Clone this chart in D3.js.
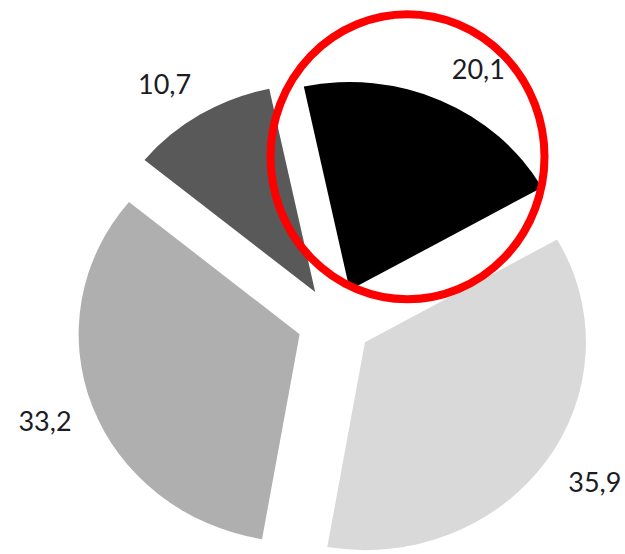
<!DOCTYPE html>
<html>
<head>
<meta charset="utf-8">
<script src="https://cdn.jsdelivr.net/npm/d3@7"></script>
<style>
  html, body { margin: 0; padding: 0; background: #ffffff; }
  svg { display: block; }
</style>
</head>
<body>
<svg id="chart" width="625" height="554"></svg>
<script>
// Slice data, clockwise from the first slice
const categories = ["Segment 1", "Segment 2", "Segment 3", "Segment 4"];
const values = [20.1, 35.9, 33.2, 10.7];
const sliceColors = ["#000000", "#d9d9d9", "#afafaf", "#595959"];
const highlighted = "Segment 1";

const width = 625, height = 554;
const cx = 334.5, cy = 322;          // pie centre
const radius = 208;                   // outer radius
const xStretch = 1.0625;              // horizontal stretch of the pie
const explode = 35;                   // distance each slice is pulled out
const startDeg = -12;

const rad = d => d * Math.PI / 180;
const locale = d3.formatLocale({ decimal: ",", thousands: ".", grouping: [3], currency: ["", ""] });
const fmt = locale.format(".1f");

const data = categories.map((c, i) => ({ name: c, value: values[i], color: sliceColors[i] }));

const pie = d3.pie()
  .sort(null)
  .value(d => d.value)
  .startAngle(rad(startDeg))
  .endAngle(rad(startDeg + 360));

const arc = d3.arc().innerRadius(0).outerRadius(radius);
const arcs = pie(data);

const svg = d3.select("#chart");
svg.append("rect").attr("width", width).attr("height", height).attr("fill", "#ffffff");

// Pie drawn in a stretched group
const g = svg.append("g")
  .attr("transform", `translate(${cx},${cy}) scale(${xStretch},1)`);

const mid = d => (d.startAngle + d.endAngle) / 2;

g.selectAll("path.slice")
  .data(arcs)
  .join("path")
  .attr("class", "slice")
  .attr("d", arc)
  .attr("fill", d => d.data.color)
  .attr("transform", d => `translate(${explode * Math.sin(mid(d))},${-explode * Math.cos(mid(d))})`);

// Screen position of a point at distance r along a slice bisector (after explosion)
function along(d, r) {
  const a = mid(d);
  return [
    cx + xStretch * (explode + r) * Math.sin(a),
    cy - (explode + r) * Math.cos(a)
  ];
}

// Value labels just outside each slice
const labelR = radius + 26;
svg.selectAll("text.value")
  .data(arcs)
  .join("text")
  .attr("class", "value")
  .each(function (d) {
    const [x, y] = along(d, labelR);
    const a = mid(d);
    const right = Math.sin(a) >= 0;
    const lower = Math.cos(a) < 0;
    d3.select(this)
      .attr("x", x + (right ? 0 : 5))
      .attr("y", y + (lower ? 8 : -5))
      .attr("text-anchor", right ? "start" : "end");
  })
  .attr("dominant-baseline", "middle")
  .attr("font-family", "Lato, 'Open Sans', sans-serif")
  .attr("font-size", 27)
  .attr("fill", "#1c1c24")
  .text(d => fmt(d.value));

// Red ring around the highlighted slice
const hi = arcs.find(d => d.data.name === highlighted);
const [hx, hy] = along(hi, 144);
svg.append("ellipse")
  .attr("cx", hx - 5)
  .attr("cy", hy - 2)
  .attr("rx", 137)
  .attr("ry", 142.5)
  .attr("fill", "none")
  .attr("stroke", "#ff0000")
  .attr("stroke-width", 8);
</script>
</body>
</html>
